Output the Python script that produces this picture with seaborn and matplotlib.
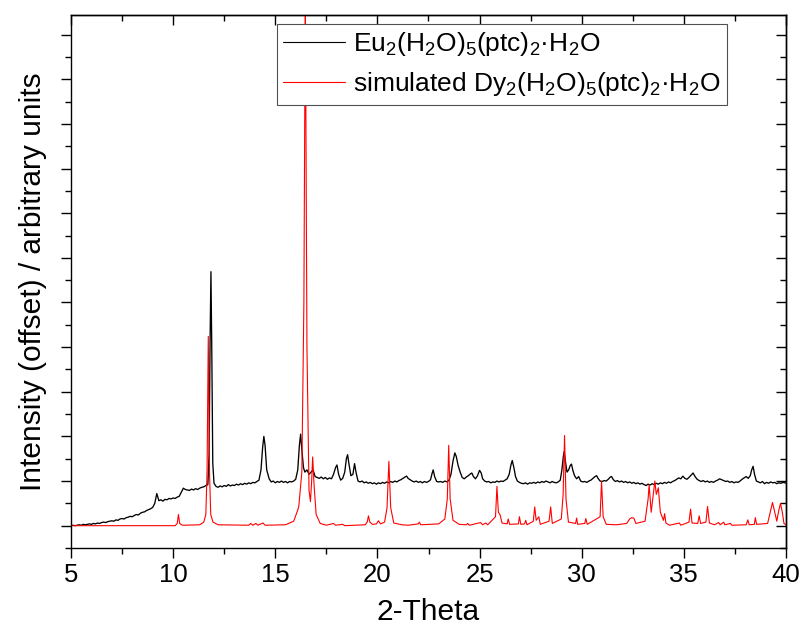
import matplotlib
matplotlib.use("Agg")
import matplotlib.pyplot as plt
from matplotlib.ticker import MultipleLocator, NullFormatter
import seaborn as sns
import pandas as pd

# ---------------- data ----------------
series_labels = [r"Eu$_2$(H$_2$O)$_5$(ptc)$_2$·H$_2$O",
                 r"simulated Dy$_2$(H$_2$O)$_5$(ptc)$_2$·H$_2$O"]
series_colors = ["#000000", "#ff0000"]

x_ticks = [5, 10, 15, 20, 25, 30, 35, 40]

# measured pattern (offset by +1 unit)
black_pattern = [
    (5.0, 0.00), (5.1, 0.01), (5.2, 0.00), (5.3, 0.01), (5.4, 0.02), (5.5, 0.01), (5.6, 0.03), (5.7, 0.02), (5.8, 0.03), (5.9, 0.04),
    (6.0, 0.03), (6.1, 0.05), (6.2, 0.04), (6.3, 0.06), (6.4, 0.05), (6.5, 0.07), (6.6, 0.08), (6.7, 0.07), (6.8, 0.09), (6.9, 0.10),
    (7.0, 0.11), (7.1, 0.10), (7.2, 0.13), (7.3, 0.12), (7.4, 0.15), (7.5, 0.16), (7.6, 0.15), (7.7, 0.18), (7.8, 0.19), (7.9, 0.21),
    (8.0, 0.20), (8.1, 0.23), (8.2, 0.25), (8.3, 0.24), (8.4, 0.28), (8.5, 0.30), (8.6, 0.31), (8.7, 0.34), (8.8, 0.36), (8.9, 0.38),
    (9.0, 0.41), (9.1, 0.50), (9.2, 0.72), (9.3, 0.56), (9.4, 0.58), (9.5, 0.55), (9.6, 0.59), (9.7, 0.58), (9.8, 0.61), (9.9, 0.60),
    (10.0, 0.62), (10.1, 0.61), (10.2, 0.64), (10.3, 0.66), (10.4, 0.75), (10.5, 0.84), (10.6, 0.81), (10.7, 0.80), (10.8, 0.79), (10.9, 0.82),
    (11.0, 0.80), (11.1, 0.83), (11.2, 0.81), (11.3, 0.84), (11.4, 0.86), (11.5, 0.87), (11.6, 0.90), (11.7, 0.92),
    (11.76, 1.6), (11.81, 4.2), (11.85, 5.69), (11.89, 4.0), (11.94, 1.4),
    (12.0, 0.95), (12.1, 0.88), (12.2, 0.86), (12.3, 0.89), (12.4, 0.87), (12.5, 0.90), (12.6, 0.88), (12.7, 0.92), (12.8, 0.89), (12.9, 0.91),
    (13.0, 0.90), (13.1, 0.93), (13.2, 0.91), (13.3, 0.94), (13.4, 0.92), (13.5, 0.95), (13.6, 0.93), (13.7, 0.96), (13.8, 0.94), (13.9, 0.97),
    (14.0, 0.96), (14.1, 0.99), (14.2, 1.02), (14.3, 1.25), (14.38, 1.75), (14.44, 2.00), (14.5, 1.80), (14.58, 1.25), (14.7, 1.05), (14.8, 0.98), (14.9, 1.00),
    (15.0, 0.96), (15.1, 0.99), (15.2, 0.97), (15.3, 1.00), (15.4, 0.97), (15.5, 0.99), (15.6, 0.96), (15.7, 0.99), (15.8, 0.98), (15.9, 1.00),
    (16.0, 1.04), (16.1, 1.25), (16.18, 1.80), (16.24, 2.05), (16.3, 1.70), (16.38, 1.30), (16.45, 1.20), (16.55, 1.25), (16.65, 1.15), (16.75, 1.20),
    (16.85, 1.25), (16.95, 1.10), (17.05, 1.08), (17.15, 1.06), (17.25, 1.09), (17.35, 1.05), (17.45, 1.08), (17.55, 1.04), (17.65, 1.07), (17.75, 1.05),
    (17.85, 1.15), (17.95, 1.30), (18.02, 1.36), (18.1, 1.15), (18.2, 1.02), (18.3, 1.06), (18.4, 1.20), (18.48, 1.50), (18.54, 1.59), (18.6, 1.40),
    (18.7, 1.12), (18.8, 1.15), (18.88, 1.39), (18.95, 1.20), (19.05, 1.00), (19.15, 0.98), (19.25, 1.00), (19.35, 0.96), (19.45, 0.98), (19.55, 0.95),
    (19.65, 0.97), (19.75, 0.94), (19.85, 0.96), (19.95, 0.93), (20.05, 0.96), (20.15, 0.94), (20.25, 0.97), (20.35, 0.95), (20.45, 0.98), (20.55, 0.96),
    (20.65, 0.99), (20.75, 0.97), (20.85, 1.00), (20.95, 0.98), (21.05, 1.01), (21.15, 1.03), (21.25, 1.06), (21.35, 1.09), (21.43, 1.11), (21.5, 1.06),
    (21.6, 1.03), (21.7, 1.00), (21.8, 0.98), (21.9, 1.00), (22.0, 0.97), (22.1, 0.99), (22.2, 0.96), (22.3, 0.99), (22.4, 0.97), (22.5, 0.99),
    (22.6, 1.03), (22.68, 1.18), (22.73, 1.25), (22.8, 1.10), (22.9, 0.99), (23.0, 0.98), (23.1, 0.99), (23.2, 0.97), (23.3, 1.00), (23.4, 0.98),
    (23.5, 1.02), (23.6, 1.15), (23.7, 1.45), (23.79, 1.63), (23.86, 1.55), (23.95, 1.35), (24.05, 1.20), (24.15, 1.08), (24.25, 1.05), (24.35, 1.09),
    (24.45, 1.12), (24.55, 1.16), (24.62, 1.18), (24.7, 1.10), (24.8, 1.05), (24.9, 1.12), (25.0, 1.24), (25.08, 1.18), (25.15, 1.05), (25.25, 1.00),
    (25.35, 0.98), (25.45, 0.99), (25.55, 0.96), (25.65, 0.98), (25.75, 0.97), (25.85, 1.00), (25.95, 0.98), (26.05, 1.00), (26.15, 0.99), (26.25, 1.02),
    (26.35, 1.05), (26.45, 1.15), (26.53, 1.35), (26.6, 1.46), (26.68, 1.30), (26.76, 1.10), (26.85, 1.00), (26.95, 0.97), (27.05, 0.95), (27.15, 0.94),
    (27.25, 0.96), (27.35, 0.93), (27.45, 0.96), (27.55, 0.95), (27.65, 0.97), (27.75, 0.95), (27.85, 0.98), (27.95, 0.96), (28.05, 0.99), (28.15, 0.97),
    (28.25, 1.00), (28.35, 0.98), (28.45, 0.96), (28.55, 0.99), (28.65, 0.97), (28.75, 0.96), (28.85, 0.98), (28.95, 1.02), (29.03, 1.25), (29.1, 1.55),
    (29.14, 1.66), (29.2, 1.45), (29.28, 1.20), (29.36, 1.25), (29.44, 1.35), (29.5, 1.38), (29.56, 1.25), (29.65, 1.12), (29.75, 1.05), (29.85, 1.10),
    (29.95, 1.00), (30.05, 0.98), (30.15, 0.99), (30.25, 0.97), (30.35, 1.00), (30.45, 1.02), (30.55, 1.06), (30.65, 1.10), (30.73, 1.12), (30.8, 1.06),
    (30.9, 1.00), (31.0, 0.99), (31.1, 1.01), (31.2, 1.00), (31.3, 1.04), (31.4, 1.09), (31.46, 1.10), (31.55, 1.03), (31.65, 0.99), (31.75, 1.01),
    (31.85, 0.98), (31.95, 1.00), (32.05, 0.97), (32.15, 0.99), (32.25, 0.96), (32.35, 0.98), (32.45, 0.95), (32.55, 0.97), (32.65, 0.94), (32.75, 0.96),
    (32.85, 0.93), (32.95, 0.95), (33.05, 0.92), (33.15, 0.90), (33.25, 0.93), (33.35, 0.91), (33.45, 0.94), (33.55, 0.92), (33.65, 0.95), (33.75, 0.93),
    (33.85, 0.96), (33.95, 0.94), (34.05, 0.97), (34.15, 0.95), (34.25, 0.98), (34.35, 0.96), (34.45, 0.99), (34.55, 1.01), (34.65, 1.04), (34.75, 1.07),
    (34.85, 1.05), (34.95, 1.11), (35.05, 1.06), (35.15, 1.04), (35.25, 1.08), (35.35, 1.13), (35.45, 1.18), (35.55, 1.10), (35.65, 1.04), (35.75, 1.01),
    (35.85, 0.99), (35.95, 1.01), (36.05, 0.98), (36.15, 1.00), (36.25, 0.97), (36.35, 0.99), (36.45, 0.97), (36.55, 1.00), (36.65, 1.02), (36.75, 1.05),
    (36.85, 1.03), (36.95, 1.01), (37.05, 0.99), (37.15, 1.00), (37.25, 0.97), (37.35, 0.99), (37.45, 0.96), (37.55, 0.98), (37.65, 0.97), (37.75, 1.00),
    (37.85, 1.04), (37.95, 1.07), (38.05, 1.10), (38.15, 1.06), (38.25, 1.12), (38.32, 1.25), (38.39, 1.33), (38.46, 1.15), (38.55, 1.00), (38.65, 0.98),
    (38.75, 0.96), (38.85, 0.99), (38.95, 0.94), (39.05, 0.97), (39.15, 0.95), (39.25, 0.98), (39.35, 0.96), (39.45, 0.97), (39.55, 0.94), (39.65, 0.96),
    (39.75, 0.95), (39.85, 0.97), (39.95, 0.96), (40.0, 0.95),
]

# simulated pattern (no offset)
red_pattern = [
    (5.0, 0.0), (10.1, 0.0), (10.2, 0.05), (10.26, 0.25), (10.32, 0.05), (10.45, 0.01),
    (11.3, 0.02), (11.5, 0.08), (11.6, 0.25), (11.66, 1.2), (11.72, 4.24), (11.78, 1.2), (11.84, 0.25), (11.95, 0.08), (12.2, 0.02),
    (13.7, 0.01), (13.8, 0.05), (13.9, 0.01), (14.05, 0.05), (14.15, 0.01), (14.4, 0.06), (14.5, 0.01),
    (15.5, 0.02), (15.9, 0.10), (16.1, 0.35), (16.15, 0.43), (16.3, 1.2), (16.4, 5.0), (16.47, 12.0), (16.55, 4.0), (16.65, 0.8),
    (16.72, 0.54), (16.78, 1.0), (16.83, 1.54), (16.9, 0.9), (17.0, 0.25), (17.2, 0.05), (17.5, 0.01),
    (17.85, 0.05), (17.95, 0.01), (18.3, 0.03), (18.4, 0.0),
    (19.4, 0.02), (19.5, 0.08), (19.56, 0.22), (19.63, 0.08), (19.75, 0.03), (19.95, 0.04), (20.05, 0.11), (20.15, 0.04),
    (20.35, 0.08), (20.47, 0.4), (20.56, 1.44), (20.65, 0.4), (20.8, 0.06), (21.2, 0.02), (21.5, 0.01),
    (22.0, 0.04), (22.05, 0.08), (22.12, 0.02), (23.0, 0.04), (23.3, 0.15), (23.42, 0.6), (23.49, 1.8), (23.56, 0.6), (23.7, 0.12), (24.0, 0.03),
    (24.35, 0.02), (24.42, 0.05), (24.5, 0.01), (25.05, 0.07), (25.15, 0.02), (25.3, 0.06), (25.4, 0.02),
    (25.78, 0.2), (25.85, 0.88), (25.92, 0.3), (26.0, 0.25), (26.1, 0.06), (26.35, 0.04), (26.4, 0.15), (26.47, 0.03),
    (26.9, 0.04), (26.95, 0.2), (27.02, 0.03), (27.2, 0.04), (27.26, 0.12), (27.32, 0.02),
    (27.63, 0.1), (27.7, 0.42), (27.77, 0.12), (27.9, 0.2), (27.97, 0.03), (28.4, 0.1), (28.48, 0.42), (28.56, 0.05),
    (29.0, 0.15), (29.09, 0.7), (29.16, 2.02), (29.23, 0.6), (29.35, 0.08), (29.7, 0.05), (29.75, 0.17), (29.8, 0.03),
    (30.15, 0.05), (30.2, 0.16), (30.27, 0.03), (30.9, 0.2), (30.97, 0.99), (31.05, 0.2), (31.2, 0.03), (31.7, 0.02),
    (32.2, 0.05), (32.35, 0.15), (32.45, 0.18), (32.55, 0.17), (32.65, 0.05),
    (33.1, 0.1), (33.25, 0.6), (33.3, 0.92), (33.4, 0.3), (33.5, 0.7), (33.58, 1.0), (33.65, 0.7), (33.75, 0.85), (33.85, 0.3),
    (34.0, 0.12), (34.06, 0.27), (34.12, 0.06), (34.3, 0.01), (34.78, 0.06), (34.85, 0.01),
    (35.25, 0.08), (35.33, 0.37), (35.4, 0.06), (35.68, 0.05), (35.75, 0.22), (35.82, 0.05), (36.08, 0.08), (36.16, 0.43), (36.25, 0.06),
    (36.5, 0.02), (36.7, 0.07), (36.78, 0.02), (36.95, 0.08), (37.0, 0.02), (37.28, 0.05), (37.35, 0.01),
    (38.05, 0.02), (38.13, 0.13), (38.2, 0.02), (38.45, 0.03), (38.5, 0.18), (38.56, 0.03),
    (39.1, 0.05), (39.25, 0.35), (39.34, 0.52), (39.45, 0.3), (39.55, 0.1), (39.65, 0.35), (39.73, 0.5), (39.82, 0.3), (39.9, 0.05), (40.0, 0.02),
]

# ---------------- build table ----------------
frames = []
for label, pattern in zip(series_labels, [black_pattern, red_pattern]):
    df = pd.DataFrame(pattern, columns=["theta", "intensity"])
    df["series"] = label
    frames.append(df)
data = pd.concat(frames, ignore_index=True)

# ---------------- style ----------------
sns.set_style("ticks")
plt.rcParams["font.family"] = ["Liberation Sans", "DejaVu Sans"]
plt.rcParams["mathtext.fontset"] = "custom"
plt.rcParams["mathtext.rm"] = "Liberation Sans"
plt.rcParams["mathtext.it"] = "Liberation Sans:italic"
plt.rcParams["mathtext.default"] = "regular"
plt.rcParams["text.color"] = "black"
plt.rcParams["axes.labelcolor"] = "black"
plt.rcParams["xtick.color"] = "black"
plt.rcParams["ytick.color"] = "black"
plt.rcParams["axes.edgecolor"] = "black"

fig = plt.figure(figsize=(8.02, 6.28), dpi=100)
ax = fig.add_axes([71 / 802, 1 - 548 / 628, (786 - 71) / 802, (548 - 15) / 628])

line_widths = [0.95, 0.8]
for label, color, lw in zip(series_labels, series_colors, line_widths):
    sns.lineplot(data=data[data["series"] == label], x="theta", y="intensity",
                 color=color, linewidth=lw, estimator=None, sort=False,
                 label=label, ax=ax)

ax.set_xlim(5, 40)
ax.set_ylim(-0.5, 11.44)

ax.set_xticks(x_ticks)
ax.set_xticklabels([str(t) for t in x_ticks])
ax.xaxis.set_minor_locator(MultipleLocator(2.5))
ax.yaxis.set_major_locator(MultipleLocator(1))
ax.yaxis.set_minor_locator(MultipleLocator(0.5))
ax.yaxis.set_major_formatter(NullFormatter())

for sp in ax.spines.values():
    sp.set_visible(True)
    sp.set_linewidth(1.0)
    sp.set_color("black")

ax.tick_params(axis="both", which="major", direction="out", length=7, width=1.0,
               labelsize=18.5, pad=4, color="black", labelcolor="black")
ax.tick_params(axis="both", which="minor", direction="out", length=4, width=1.0, color="black")
ax.tick_params(axis="y", which="both", labelleft=False)

# top / right ticks pointing inwards
secx = ax.secondary_xaxis("top")
secx.xaxis.set_major_locator(MultipleLocator(5))
secx.xaxis.set_minor_locator(MultipleLocator(2.5))
secx.tick_params(which="major", direction="in", length=7, width=1.0, labeltop=False, color="black")
secx.tick_params(which="minor", direction="in", length=4, width=1.0, color="black")
secx.spines["top"].set_linewidth(1.0)
secx.spines["top"].set_color("black")

secy = ax.secondary_yaxis("right")
secy.yaxis.set_major_locator(MultipleLocator(1))
secy.yaxis.set_minor_locator(MultipleLocator(0.5))
secy.tick_params(which="major", direction="in", length=7, width=1.0, labelright=False, color="black")
secy.tick_params(which="minor", direction="in", length=4, width=1.0, color="black")
secy.spines["right"].set_linewidth(1.0)
secy.spines["right"].set_color("black")

ax.set_xlabel("2-Theta", fontsize=21.5, labelpad=8, color="black")
ax.set_ylabel("Intensity (offset) / arbitrary units", fontsize=21.5, labelpad=10, color="black")

leg = ax.legend(loc="upper left", bbox_to_anchor=(277 / 802, 1 - 24 / 628),
                bbox_transform=fig.transFigure, borderaxespad=0,
                frameon=True, fancybox=False, framealpha=1, edgecolor="#505050",
                fontsize=19.0, handlelength=2.35, handletextpad=0.3,
                borderpad=0.24, labelspacing=0.46)
leg.get_frame().set_linewidth(0.8)
for line in leg.get_lines():
    line.set_linewidth(0.8)
for t in leg.get_texts():
    t.set_color("black")

fig.savefig("out.png", dpi=100)
